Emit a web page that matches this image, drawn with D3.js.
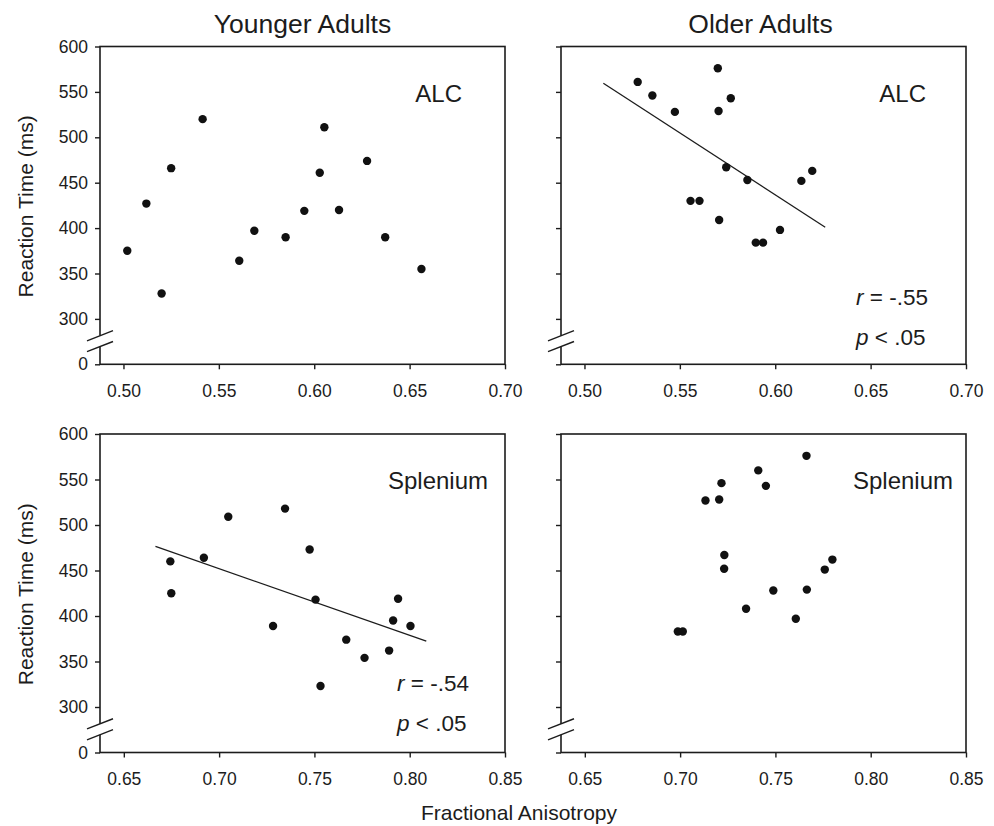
<!DOCTYPE html>
<html>
<head>
<meta charset="utf-8">
<script src="https://cdn.jsdelivr.net/npm/d3@7"></script>
<style>
  html, body { margin: 0; padding: 0; background: #fff; }
  svg { display: block; font-family: "Liberation Sans", Arial, Helvetica, sans-serif; }
</style>
</head>
<body>
<svg id="chart" width="994" height="826"></svg>
<script>
// ---------------- DATA ----------------
const columnTitles = ["Younger Adults", "Older Adults"];
const regionLabels = ["ALC", "Splenium"];
const yAxisTitle = "Reaction Time (ms)";
const xAxisTitle = "Fractional Anisotropy";

const yTickValues = [250, 300, 350, 400, 450, 500, 550, 600]; // 250 position carries the "0" label (axis break)
const yTickLabels = ["0", "300", "350", "400", "450", "500", "550", "600"];
const xTicksALC = [0.50, 0.55, 0.60, 0.65, 0.70];
const xTicksSplenium = [0.65, 0.70, 0.75, 0.80, 0.85];

// Younger adults, ALC
const yaAlcFA = [0.502, 0.512, 0.520, 0.525, 0.5415, 0.5607, 0.5686, 0.585, 0.5948, 0.6029, 0.6053, 0.613, 0.6277, 0.6372, 0.6562];
const yaAlcRT = [375, 427, 328, 466, 520, 364, 397, 390, 419, 461, 511, 420, 474, 390, 355];

// Older adults, ALC
const oaAlcFA = [0.5279, 0.5356, 0.5474, 0.5699, 0.5703, 0.5767, 0.5743, 0.5854, 0.5556, 0.5603, 0.5706, 0.5898, 0.5936, 0.6025, 0.6137, 0.6194];
const oaAlcRT = [561, 546, 528, 576, 529, 543, 467, 453, 430, 430, 409, 384, 384, 398, 452, 463];
const oaAlcFitFA = [0.5099, 0.6262];
const oaAlcFitRT = [559.6, 401.0];

// Younger adults, Splenium
const yaSplFA = [0.6744, 0.6749, 0.692, 0.7048, 0.7283, 0.7346, 0.7475, 0.7506, 0.7532, 0.7667, 0.7763, 0.7892, 0.7913, 0.7939, 0.8004];
const yaSplRT = [460, 425, 464, 509, 389, 518, 473, 418, 323, 374, 354, 362, 395, 419, 389];
const yaSplFitFA = [0.6666, 0.8087];
const yaSplFitRT = [476.4, 372.5];

// Older adults, Splenium
const oaSplFA = [0.6988, 0.7014, 0.7133, 0.7205, 0.7217, 0.7232, 0.7231, 0.7346, 0.741, 0.745, 0.7489, 0.7607, 0.7663, 0.7665, 0.7759, 0.7799];
const oaSplRT = [383, 383, 527, 528, 546, 467, 452, 408, 560, 543, 428, 397, 576, 429, 451, 462];

const statR = ["", "r = -.55", "r = -.54", ""];
const statP = ["", "p < .05", "p < .05", ""];

// ---------------- LAYOUT ----------------
const svg = d3.select("#chart");
const ink = "#1c1c1c";
const colX = [[100, 505], [561, 966]];
const rowY = [[46.5, 364.3], [434, 752.5]];
const xDomains = [[0.4877, 0.70], [0.6375, 0.85]];
const xTickSets = [xTicksALC, xTicksSplenium];

const panels = [
  { row: 0, col: 0, fa: yaAlcFA, rt: yaAlcRT, fit: null, idx: 0 },
  { row: 0, col: 1, fa: oaAlcFA, rt: oaAlcRT, fit: [oaAlcFitFA, oaAlcFitRT], idx: 1 },
  { row: 1, col: 0, fa: yaSplFA, rt: yaSplRT, fit: [yaSplFitFA, yaSplFitRT], idx: 2 },
  { row: 1, col: 1, fa: oaSplFA, rt: oaSplRT, fit: null, idx: 3 }
];

panels.forEach(p => {
  const [x0, x1] = colX[p.col];
  const [y0, y1] = rowY[p.row];
  const x = d3.scaleLinear().domain(xDomains[p.row]).range([x0, x1]);
  const y = d3.scaleLinear().domain([250, 600]).range([y1, y0]);
  const g = svg.append("g");

  // axes
  const xa = d3.axisBottom(x).tickValues(xTickSets[p.row]).tickSize(5).tickPadding(15)
    .tickFormat(d3.format(".2f"));
  const gx = g.append("g").attr("transform", `translate(0,${y1})`).call(xa);
  const ya = d3.axisLeft(y).tickValues(yTickValues).tickSize(5).tickPadding(7)
    .tickFormat((d, i) => p.col === 0 ? yTickLabels[i] : "");
  const gy = g.append("g").attr("transform", `translate(${x0},0)`).call(ya);
  [gx, gy].forEach(a => {
    a.select(".domain").remove();
    a.selectAll("line").attr("stroke", ink).attr("stroke-width", 1.4);
    a.selectAll("text").attr("fill", ink).style("font-size", "17.5px");
  });

  // frame
  g.append("rect").attr("x", x0).attr("y", y0).attr("width", x1 - x0).attr("height", y1 - y0)
    .attr("fill", "none").attr("stroke", ink).attr("stroke-width", 1.6);

  // axis break
  const bHi = y(281.5), bLo = y(269.5);
  g.append("rect").attr("x", x0 - 2).attr("y", bHi).attr("width", 4).attr("height", bLo - bHi).attr("fill", "#fff");
  [bHi, bLo].forEach(yc => {
    g.append("line").attr("x1", x0 - 13).attr("y1", yc + 5.1).attr("x2", x0 + 13).attr("y2", yc - 5.1)
      .attr("stroke", ink).attr("stroke-width", 1.4);
  });

  // regression line
  if (p.fit) {
    g.append("line")
      .attr("x1", x(p.fit[0][0])).attr("y1", y(p.fit[1][0]))
      .attr("x2", x(p.fit[0][1])).attr("y2", y(p.fit[1][1]))
      .attr("stroke", ink).attr("stroke-width", 1.3);
  }

  // points
  g.selectAll("circle.pt").data(p.fa.map((f, i) => [f, p.rt[i]])).join("circle")
    .attr("class", "pt").attr("cx", d => x(d[0])).attr("cy", d => y(d[1])).attr("r", 4.2)
    .attr("fill", "#111");

  // region label
  const labelRight = p.row === 0 ? (p.col === 0 ? x1 - 43 : x1 - 40) : (p.col === 0 ? x1 - 17 : x1 - 13);
  g.append("text").attr("x", labelRight).attr("y", y0 + 55).attr("text-anchor", "end")
    .attr("fill", ink).style("font-size", "24px").text(regionLabels[p.row]);

  // stats
  if (statR[p.idx]) {
    const sx = p.col === 1 ? x0 + 295 : x0 + 297;
    const base = p.row === 0 ? y0 + 258 : y0 + 256.5;
    const parts = [statR[p.idx], statP[p.idx]];
    parts.forEach((s, k) => {
      const t = g.append("text").attr("x", sx).attr("y", base + k * 40.5)
        .attr("fill", ink).style("font-size", "22.5px");
      t.append("tspan").style("font-style", "italic").text(s.charAt(0));
      t.append("tspan").text(s.slice(1));
    });
  }
});

// column titles
columnTitles.forEach((t, i) => {
  const cx = (colX[i][0] + colX[i][1]) / 2 + (i === 1 ? -3 : 0);
  svg.append("text").attr("x", cx).attr("y", 33).attr("text-anchor", "middle")
    .attr("fill", ink).style("font-size", "26.5px").text(t);
});

// y axis titles
rowY.forEach(r => {
  const cy = (r[0] + r[1]) / 2 + 1;
  svg.append("text").attr("transform", `translate(33,${cy}) rotate(-90)`).attr("text-anchor", "middle")
    .attr("fill", ink).style("font-size", "21px").text(yAxisTitle);
});

// x axis title
svg.append("text").attr("x", 519).attr("y", 820).attr("text-anchor", "middle")
  .attr("fill", ink).style("font-size", "21px").text(xAxisTitle);
</script>
</body>
</html>
